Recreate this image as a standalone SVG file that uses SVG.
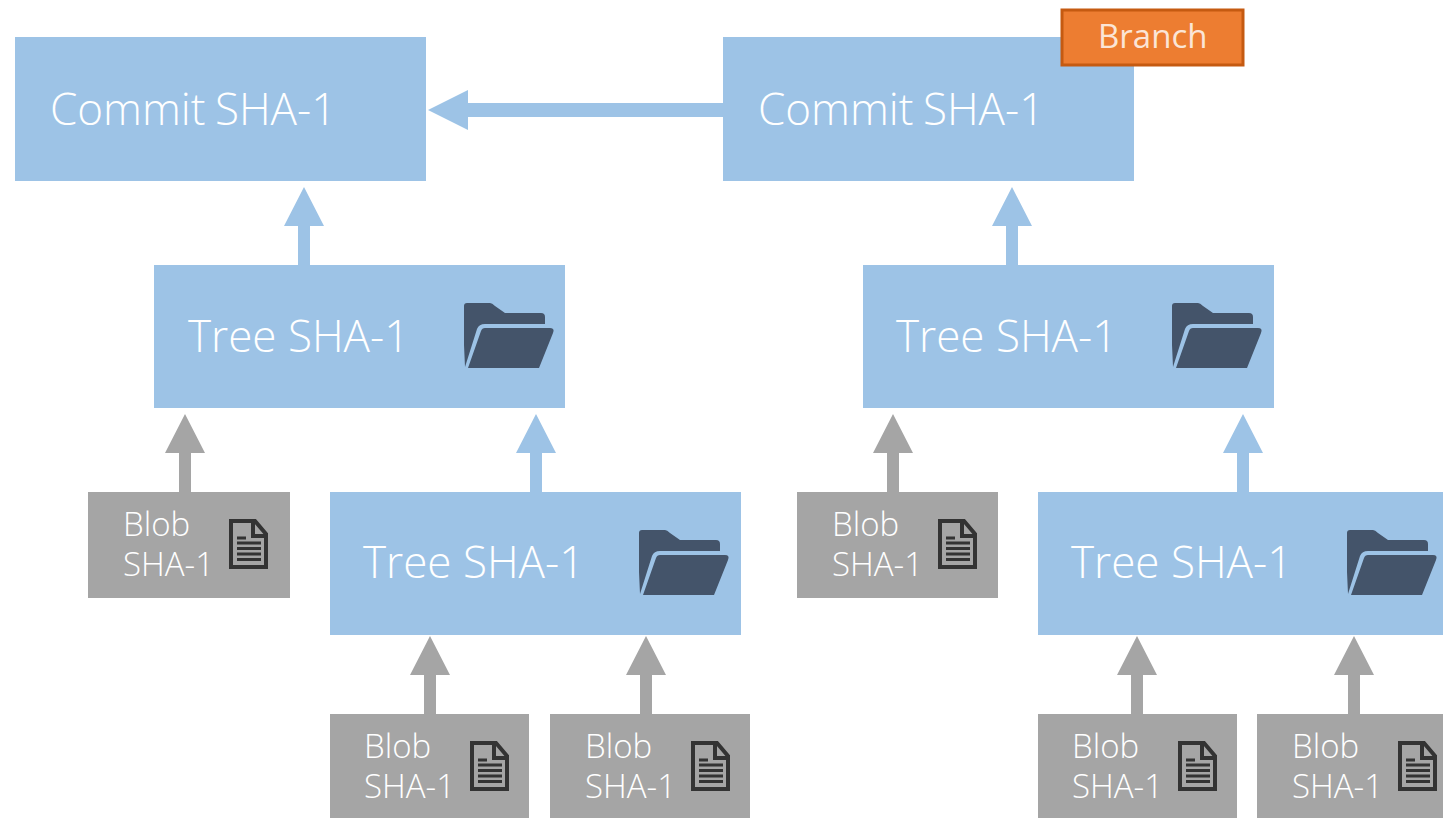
<svg xmlns="http://www.w3.org/2000/svg" xmlns:xlink="http://www.w3.org/1999/xlink" width="1443" height="818" viewBox="0 0 1443 818">
<style>
.blue{fill:#9dc3e6}
.gray{fill:#a5a5a5}
.big{font-family:"Open Sans","Liberation Sans",sans-serif;font-size:44px;font-weight:300;fill:#fff}
.com{word-spacing:-2px}
.small{font-family:"Open Sans","Liberation Sans",sans-serif;font-size:33px;font-weight:300;fill:#fff}
.brtext{font-family:"Open Sans","Liberation Sans",sans-serif;font-size:33px;font-weight:400;fill:#fbe5d6}
.fold{fill:#44546a}
.docline{stroke:#333;stroke-width:3;fill:none}
</style>
<defs>
<g id="folder">
<path class="fold" d="M0 42V3Q0 0 3 0H26Q28 0 31 3L41 10H77Q81 10 81 14V21H21Q15 21 13 26L1 64Z"/>
<path class="fold" d="M21 25H86Q91 25 89 30L75 65H4L17 28Q18 25 21 25Z"/>
</g>
<g id="doc">
<path d="M2 2H26L37 15V48H2Z" fill="none" stroke="#333" stroke-width="4"/>
<path d="M24 2V17H38" fill="none" stroke="#333" stroke-width="4"/>
<path class="docline" d="M8 19H17M8 24H32M8 29.500H32M8 35H32M8 40.500H32"/>
</g>
<path id="upb" class="blue" d="M0 0L20 39H6V78H-6V39H-20Z"/>
<path id="upg" class="gray" d="M0 0L20 39H6V78H-6V39H-20Z"/>
</defs>
<rect width="1443" height="818" fill="#fff"/>
<g id="connectors">
<path class="blue" d="M428 110L468 90V103H723V117H468V130Z"/>
<use href="#upb" x="304" y="187"/>
<use href="#upb" x="1012" y="187"/>
<use href="#upb" x="536" y="414"/>
<use href="#upb" x="1243" y="414"/>
<use href="#upg" x="185" y="414"/>
<use href="#upg" x="893" y="414"/>
<use href="#upg" x="430" y="636"/>
<use href="#upg" x="646" y="636"/>
<use href="#upg" x="1137" y="636"/>
<use href="#upg" x="1354" y="636"/>
</g>
<g id="commit-left"><rect class="blue" x="15" y="37" width="411" height="144"/><text class="big com" x="50" y="125">Commit SHA-1</text></g>
<g id="commit-right"><rect class="blue" x="723" y="37" width="411" height="144"/><text class="big com" x="758" y="125">Commit SHA-1</text></g>
<g id="branch"><rect x="1062" y="10" width="181" height="55" fill="#ed7d31" stroke="#c55a11" stroke-width="3"/><text class="brtext" x="1098" y="48">Branch</text></g>
<g id="tree-left-1"><rect class="blue" x="154" y="265" width="411" height="143"/><text class="big" x="188" y="352">Tree SHA-1</text><use href="#folder" x="464" y="303"/></g>
<g id="tree-right-1"><rect class="blue" x="863" y="265" width="411" height="143"/><text class="big" x="896" y="352">Tree SHA-1</text><use href="#folder" x="1172" y="303"/></g>
<g id="tree-left-2"><rect class="blue" x="330" y="492" width="411" height="143"/><text class="big" x="363" y="578">Tree SHA-1</text><use href="#folder" x="639" y="530"/></g>
<g id="tree-right-2"><rect class="blue" x="1038" y="492" width="411" height="143"/><text class="big" x="1071" y="578">Tree SHA-1</text><use href="#folder" x="1347" y="530"/></g>
<g id="blob-1"><rect class="gray" x="88" y="492" width="202" height="106"/><text class="small"><tspan x="123" y="536">Blob</tspan><tspan x="123" y="576">SHA-1</tspan></text><use href="#doc" x="229" y="519"/></g>
<g id="blob-2"><rect class="gray" x="797" y="492" width="201" height="106"/><text class="small"><tspan x="832" y="536">Blob</tspan><tspan x="832" y="576">SHA-1</tspan></text><use href="#doc" x="938" y="519"/></g>
<g id="blob-3"><rect class="gray" x="330" y="714" width="199" height="104"/><text class="small"><tspan x="364" y="758">Blob</tspan><tspan x="364" y="798">SHA-1</tspan></text><use href="#doc" x="470" y="741"/></g>
<g id="blob-4"><rect class="gray" x="550" y="714" width="200" height="104"/><text class="small"><tspan x="585" y="758">Blob</tspan><tspan x="585" y="798">SHA-1</tspan></text><use href="#doc" x="691" y="741"/></g>
<g id="blob-5"><rect class="gray" x="1038" y="714" width="199" height="104"/><text class="small"><tspan x="1072" y="758">Blob</tspan><tspan x="1072" y="798">SHA-1</tspan></text><use href="#doc" x="1178" y="741"/></g>
<g id="blob-6"><rect class="gray" x="1257" y="714" width="186" height="104"/><text class="small"><tspan x="1292" y="758">Blob</tspan><tspan x="1292" y="798">SHA-1</tspan></text><use href="#doc" x="1398" y="741"/></g>
</svg>
